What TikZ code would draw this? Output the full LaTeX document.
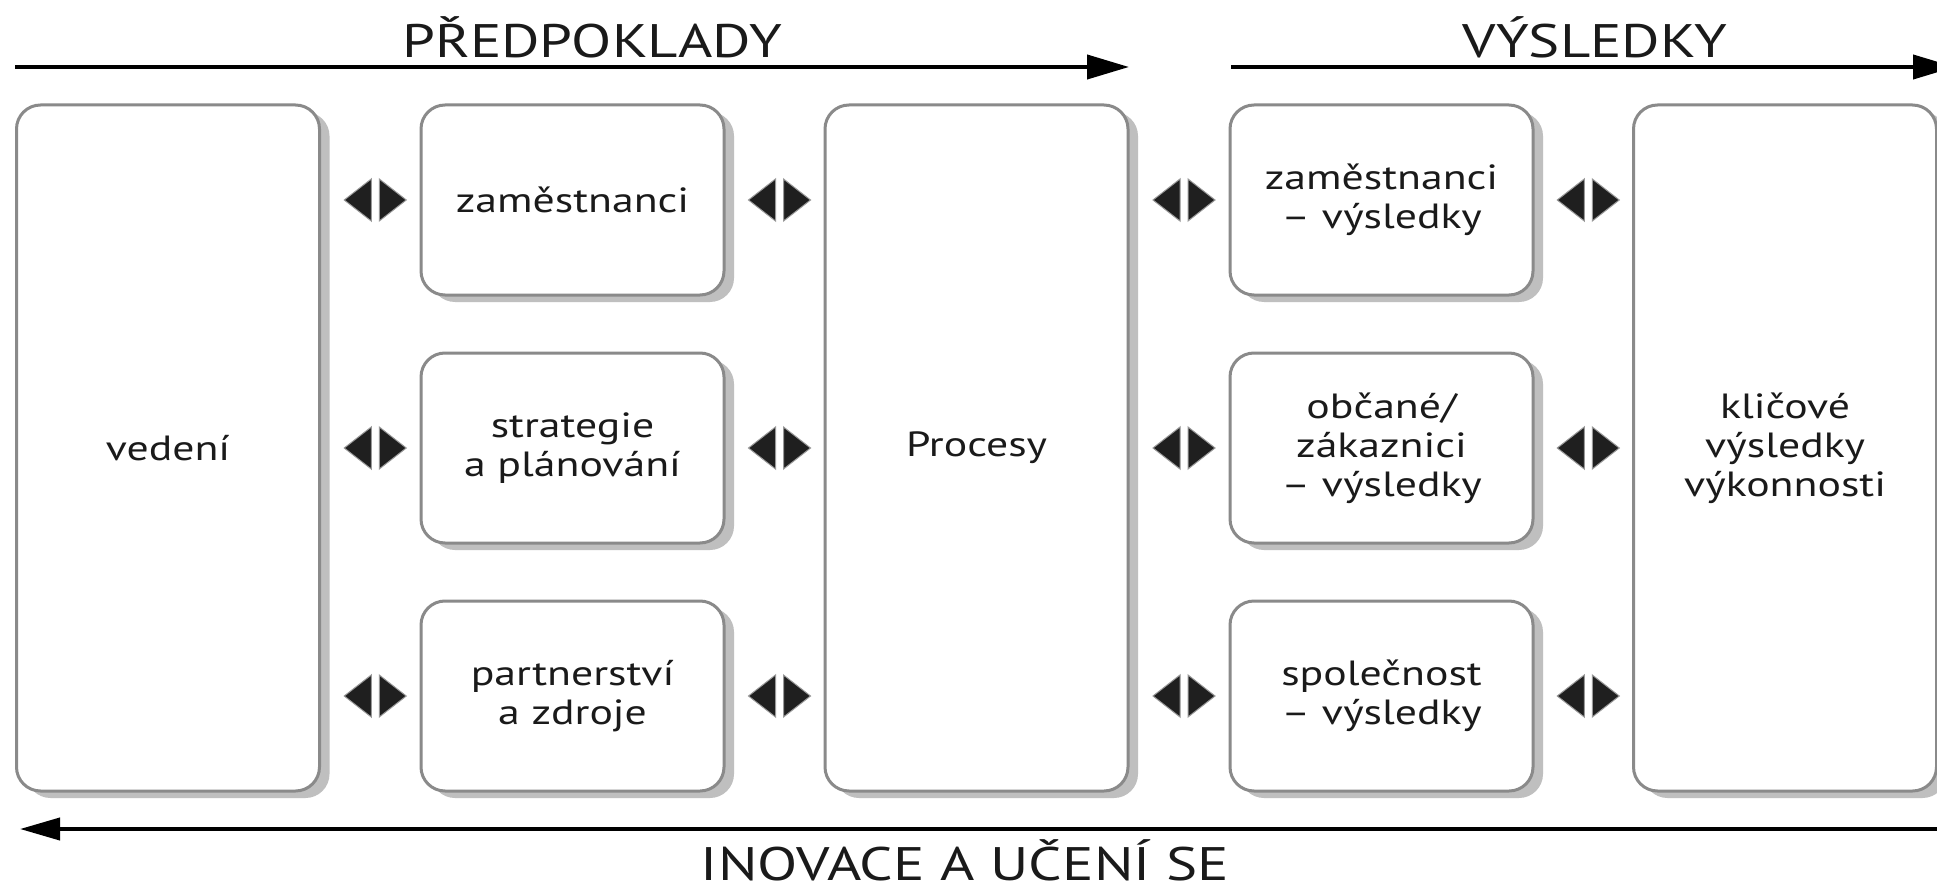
\documentclass[tikz,border=0pt]{standalone}
\usepackage{fontspec}
\setmainfont{PT Sans}[FakeStretch=1.25]
\usetikzlibrary{arrows.meta,shadows,calc}
\definecolor{boxline}{HTML}{8A8A8A}
\definecolor{txt}{HTML}{1A1A1A}
\tikzset{
  box/.style={draw=boxline, line width=3pt, rounded corners=24pt, fill=white,
    minimum width=303pt, inner sep=0pt, align=center,
    font=\fontsize{35}{39}\selectfont, text=txt,
    drop shadow={shadow xshift=10pt, shadow yshift=-7pt, fill=black!25, opacity=1}},
  smallbox/.style={box, minimum height=190pt},
  tallbox/.style={box, minimum height=686pt},
  heading/.style={font=\fontsize{47}{50}\selectfont, text=txt, anchor=base, inner sep=0pt},
  flow/.style={line width=4pt, draw=black, -{Triangle[length=42pt,width=24pt]}},
  tri/.style={fill=black!88, draw=gray!80, line width=1pt},
  bi/.pic={
    \draw[tri] (-4,-21) -- (-31,0) -- (-4,21) -- cycle;
    \draw[tri] (4,-21) -- (31,0) -- (4,21) -- cycle;
  }
}
\begin{document}
\begin{tikzpicture}[x=1pt,y=-1pt]
\useasboundingbox (0,0) rectangle (1937,893);
\fill[white] (0,0) rectangle (1937,893);
\clip (0,0) rectangle (1937,893);

% boxes
\node[tallbox] (v) at (168,448) {vedení};
\node[smallbox] (z1) at (572.5,200) {zaměstnanci};
\node[smallbox] (z2) at (572.5,448) {strategie\\a plánování};
\node[smallbox] (z3) at (572.5,696) {partnerství\\a zdroje};
\node[tallbox] (p) at (976.5,448) {Procesy};
\node[smallbox] (r1) at (1381.5,200) {zaměstnanci\\– výsledky};
\node[smallbox] (r2) at (1381.5,448) {občané/\\zákaznici\\– výsledky};
\node[smallbox] (r3) at (1381.5,696) {společnost\\– výsledky};
\node[tallbox] (k) at (1785,448) {kličové\\výsledky\\výkonnosti};

% double arrows between boxes
\foreach \z in {z1,z2,z3}{
  \pic at ($(v.east |- \z.west)!0.5!(\z.west)+(5pt,0)$) {bi};
  \pic at ($(\z.east)!0.5!(p.west |- \z.east)+(5pt,0)$) {bi};
}
\foreach \r in {r1,r2,r3}{
  \pic at ($(p.east |- \r.west)!0.5!(\r.west)+(5pt,0)$) {bi};
  \pic at ($(\r.east)!0.5!(k.west |- \r.east)+(5pt,0)$) {bi};
}

% flow arrows
\coordinate (a1s) at (15,67);
\coordinate (a1e) at (1129,67);
\coordinate (a2s) at (1231,67);
\coordinate (a2e) at (1955,67);
\coordinate (b1s) at (1945,829);
\coordinate (b1e) at (20,829);
\draw[flow] (a1s) -- (a1e);
\draw[flow] (a2s) -- (a2e);
\draw[flow, -{Triangle[length=40pt,width=22pt]}] (b1s) -- (b1e);

% headings
\node[heading] (h1) at (592,58) {PŘEDPOKLADY};
\node[heading] (h2) at (1595,58) {VÝSLEDKY};
\node[heading] (h3) at (965,880) {INOVACE A UČENÍ SE};
\end{tikzpicture}
\end{document}
